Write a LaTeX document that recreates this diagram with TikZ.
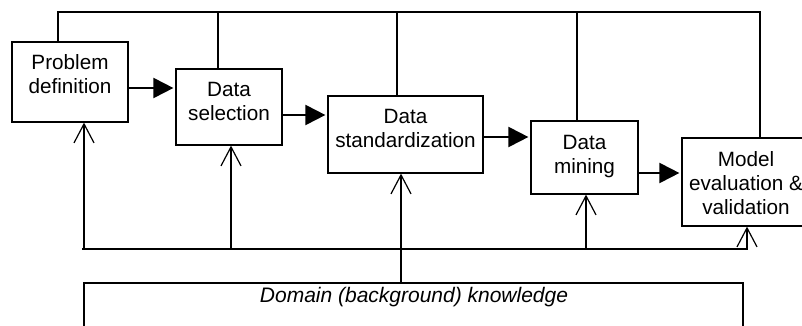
\documentclass[tikz,border=0pt]{standalone}
\usepackage{fontspec}
\setmainfont{Liberation Sans}
\usetikzlibrary{arrows.meta}
\newcommand{\mystack}[1]{\begin{tabular}[t]{@{}c@{}}#1\end{tabular}}
\begin{document}
\begin{tikzpicture}[x=1pt,y=-1pt,
  box/.style={draw, line width=1.2pt, inner sep=0pt},
  lbl/.style={font=\fontsize{20.7}{24}\selectfont, inner sep=0pt, anchor=base},
  flow/.style={line width=2pt, shorten >=2pt, -{Triangle[length=20pt,width=20pt]}},
  wire/.style={line width=1.2pt},
  feed/.style={line width=1.2pt, -{Straight Barb[length=19pt,width=20pt,line width=1.2pt]}}]
\useasboundingbox (0,0) rectangle (802,326);
\clip (0,0) rectangle (802,326);
% boxes
\node[box, minimum width=116pt, minimum height=80pt] (b1) at (70,82) {};
\node[box, minimum width=106pt, minimum height=76pt] (b2) at (229,107) {};
\node[box, minimum width=155pt, minimum height=77pt] (b3) at (405.5,134.5) {};
\node[box, minimum width=107pt, minimum height=73pt] (b4) at (584.5,157.5) {};
\node[box, minimum width=130pt, minimum height=88pt] (b5) at (747,182) {};
\node[box, minimum width=659pt, minimum height=62pt] (dom) at (413.5,314) {};
% texts
\node[lbl] (t1) at (70,70) {\mystack{Problem\\definition}};
\node[lbl] (t2) at (229,97) {\mystack{Data\\selection}};
\node[lbl] (t3) at (405.5,124) {\mystack{Data\\standardization}};
\node[lbl] (t4) at (584.5,149) {\mystack{Data\\mining}};
\node[lbl] (t5) at (746,166) {\mystack{Model\\evaluation \&\\validation}};
\node[lbl, font=\fontsize{21}{24}\selectfont\itshape] (t6) at (414,302) {Domain (background) knowledge};
% forward arrows
\draw[flow] (b1.east |- 0,88) -- (b2.west |- 0,88);
\draw[flow] (b2.east |- 0,115) -- (b3.west |- 0,115);
\draw[flow] (b3.east |- 0,137) -- (b4.west |- 0,137);
\draw[flow] (b4.east |- 0,173) -- (b5.west |- 0,173);
% top feedback bus
\coordinate (tA) at (58,12);
\coordinate (tE) at (760,12);
\draw[wire] (b1.north -| tA) -- (tA) -- (tE) -- (b5.north -| tE);
\draw[wire] (b2.north -| 218,0) -- (218,12);
\draw[wire] (b3.north -| 397,0) -- (397,12);
\draw[wire] (b4.north -| 577,0) -- (577,12);
% bottom knowledge bus
\coordinate (bA) at (82,249);
\coordinate (bE) at (748,249);
\draw[wire] (bA) -- (bE);
\draw[feed] (84,249) -- (b1.south -| 84,0);
\draw[feed] (231,249) -- (b2.south -| 231,0);
\draw[feed] (dom.north -| 401,0) -- (b3.south -| 401,0);
\draw[feed] (586,249) -- (b4.south -| 586,0);
\draw[feed] (bE -| 747,0) -- (b5.south -| 747,0);
\end{tikzpicture}
\end{document}
